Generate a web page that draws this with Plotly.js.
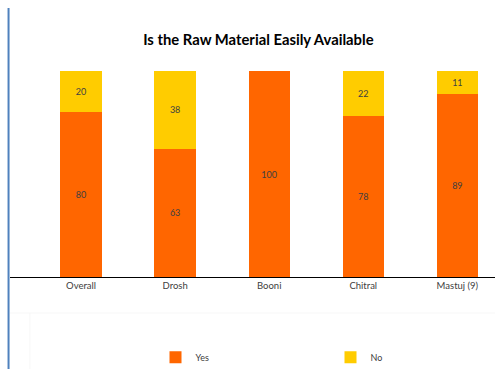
<!DOCTYPE html>
<html>
<head>
<meta charset="utf-8">
<script src="https://cdn.plot.ly/plotly-3.0.1.min.js"></script>
<style>html,body{margin:0;padding:0;background:#fff;}#chart{width:495px;height:369px;}</style>
</head>
<body>
<div id="chart"></div>
<script>
const categories = ["Overall", "Drosh", "Booni", "Chitral", "Mastuj (9)"];
const yesValues = [80, 63, 100, 78, 89];
const noValues = [20, 38, 0, 22, 11];
const seriesNames = ["Yes", "No"];

const labelOf = v => (v ? String(v) : "");
const common = {
  type: "bar",
  x: categories,
  textposition: "inside",
  insidetextanchor: "middle",
  textangle: 0,
  constraintext: "none",
  textfont: {family: "Lato, 'Open Sans', sans-serif", size: 9, color: "#404040"},
  hoverinfo: "skip"
};
const traces = [
  Object.assign({}, common, {name: seriesNames[0], y: yesValues, text: yesValues.map(labelOf), marker: {color: "#FF6600"}}),
  Object.assign({}, common, {name: seriesNames[1], y: noValues, text: noValues.map(labelOf), marker: {color: "#FFCC00"}})
];

const layout = {
  width: 495, height: 369,
  margin: {l: 10, r: 0, t: 71, b: 92, autoexpand: false},
  paper_bgcolor: "#fff", plot_bgcolor: "#fff",
  barmode: "stack",
  barnorm: "percent",
  bargap: 0.56,
  showlegend: true,
  title: {text: "Is the Raw Material Easily Available", x: 0.522, xanchor: "center", y: 0.892, yanchor: "middle",
          font: {family: "Lato, 'Open Sans', sans-serif", size: 14.8, color: "#000", weight: "bold"}},
  xaxis: {range: [-0.755, 4.40], showline: true, linecolor: "#000", linewidth: 1, ticks: "", showgrid: false,
          tickfont: {family: "Lato, 'Open Sans', sans-serif", size: 9.5, color: "#404040"}, fixedrange: true},
  yaxis: {range: [0, 100], visible: false, showgrid: false, zeroline: false, fixedrange: true},
  legend: {orientation: "h", x: 0.300, xanchor: "left", y: -0.39, yanchor: "middle",
           entrywidth: 130, entrywidthmode: "pixels", itemwidth: 30,
           font: {family: "Lato, 'Open Sans', sans-serif", size: 9, color: "#404040"}, traceorder: "normal"},
  shapes: [
    {type: "line", xref: "paper", yref: "paper", x0: -0.003, x1: -0.003, y0: 1.306, y1: -0.45,
     line: {color: "#4F81BD", width: 2}},
    {type: "line", xref: "paper", yref: "paper", x0: 0.0, x1: 1.0, y0: -0.175, y1: -0.175,
     line: {color: "#F7F7F7", width: 1}},
    {type: "line", xref: "paper", yref: "paper", x0: 0.041, x1: 0.041, y0: -0.175, y1: -0.45,
     line: {color: "#F7F7F7", width: 1}}
  ]
};
Plotly.newPlot("chart", traces, layout, {displayModeBar: false, staticPlot: true});
</script>
</body>
</html>
